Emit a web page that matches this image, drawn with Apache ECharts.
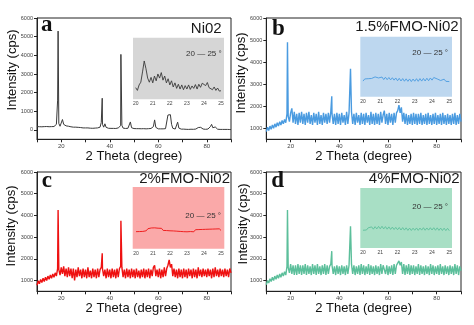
<!DOCTYPE html>
<html><head><meta charset="utf-8">
<script src="https://cdn.jsdelivr.net/npm/echarts@6/dist/echarts.min.js"></script>
<style>html,body{margin:0;padding:0;background:#fff}#c{width:474px;height:325px}</style>
</head><body><div id="c"></div>
<script>
// ---------- DATA ----------
const theta = [
10,10.5,11,11.5,12,12.5,13,13.5,14,14.5,
15,15.5,16,16.5,17,17.5,18,18.5,18.7,19,19.5,
20,20.5,21,21.5,22,22.5,23,23.5,24,24.5,
25,25.5,26,26.5,27,27.5,28,28.5,29,29.5,
30,30.5,31,31.5,32,32.5,33,33.5,34,34.5,
35,35.5,36,36.5,36.9,37,37.5,38,38.5,39,39.5,
40,40.5,41,41.5,42,42.5,43,43.5,44,44.5,44.6,
45,45.5,46,46.5,47,47.5,48,48.5,49,49.5,
50,50.5,51,51.5,52,52.5,53,53.5,54,54.5,
55,55.5,56,56.5,57,57.5,58,58.5,59,59.5,
60,60.5,61,61.5,62,62.5,63,63.5,64,64.5,
65,65.5,66,66.5,67,67.5,68,68.5,69,69.5,
70,70.5,71,71.5,72,72.5,73,73.5,74,74.5,
75,75.5,76,76.5,77,77.5,78,78.5,79,79.5,
80,80.5,81,81.5,82,82.5,83,83.5,84,84.5,
85,85.5,86,86.5,87,87.5,88,88.5,89,89.5,
90];

const ni02 = [
180,190,175,185,170,190,180,175,185,180,
175,185,180,190,185,200,300,1600,5300,350,200,
250,560,300,320,220,180,200,220,170,150,
150,140,150,130,140,120,130,120,110,120,
110,100,110,100,95,100,90,95,100,110,
110,120,150,400,1700,300,150,330,140,100,90,
90,85,90,85,90,80,90,110,180,230,4050,
250,100,90,80,80,90,150,430,120,80,
75,70,70,65,70,60,65,60,70,60,
60,65,70,60,80,100,180,540,140,70,
60,55,60,50,60,50,70,150,800,780,
820,300,90,60,50,70,420,100,50,45,
40,45,40,35,40,30,35,40,30,35,
40,50,70,130,160,140,80,50,40,35,
40,50,80,180,300,120,60,160,70,40,
35,30,35,30,25,30,25,30,20,25,
20];

const fmo15 = [
850,1050,900,1100,950,1150,1000,1200,1050,1250,
1100,1300,1150,1350,1200,1400,1250,1650,4900,1550,1300,
1700,1900,1250,1750,1200,1650,1150,1700,1250,1750,
1200,1650,1150,1700,1250,1750,1200,1600,1150,1700,
1250,1650,1150,1750,1200,1600,1150,1700,1250,1650,
1200,1700,1250,1750,2450,1650,1200,1650,1150,1700,1200,
1650,1150,1700,1250,1600,1150,1750,1200,1700,1650,3700,
1750,1200,1650,1150,1700,1250,1600,1150,1700,1200,
1650,1150,1700,1250,1600,1150,1750,1200,1650,1150,
1700,1200,1650,1150,1750,1250,1600,1800,1200,1650,
1150,1700,1250,1650,1150,1700,1250,1700,1800,2050,
1700,1950,1300,1700,1200,1650,1150,1600,1200,1650,
1150,1700,1200,1650,1150,1650,1200,1700,1150,1600,
1200,1650,1150,1700,1200,1600,1150,1650,1200,1700,
1150,1600,1200,1650,1150,1700,1200,1600,1150,1650,
1200,1600,1150,1650,1200,1700,1150,1600,1200,1650,
1300];

const fmo2 = [
780,980,850,1050,900,1100,950,1150,1000,1200,
1050,1250,1100,1300,1150,1350,1200,1550,4250,1500,1250,
1600,1300,1650,1200,1550,1150,1600,1200,1550,1100,
1550,1000,1500,1150,1600,1200,1500,1100,1550,1150,
1500,1100,1600,1150,1450,1100,1550,1150,1500,1100,
1550,1150,1500,1600,2250,1550,1200,1500,1100,1550,1150,
1500,1100,1550,1150,1500,1100,1550,1150,1550,1650,3750,
1600,1150,1500,1100,1550,1150,1500,1100,1550,1150,
1500,1100,1550,1150,1450,1100,1500,1150,1550,1100,
1500,1150,1550,1100,1500,1200,1600,1700,1200,1500,
1150,1550,1100,1500,1150,1600,1200,1550,1700,1950,
1600,1750,1200,1550,1150,1500,1100,1550,1150,1500,
1100,1550,1150,1500,1100,1550,1200,1500,1100,1550,
1150,1500,1100,1600,1200,1500,1150,1550,1200,1500,
1150,1550,1200,1500,1100,1550,1150,1600,1200,1500,
1150,1550,1200,1500,1150,1550,1200,1500,1150,1550,
1350];

const fmo4 = [
800,1000,880,1080,950,1150,1000,1200,1050,1250,
1100,1300,1150,1350,1200,1400,1250,1650,4250,1600,1350,
1750,1300,1700,1250,1700,1250,1750,1300,1700,1250,
1700,1300,1750,1250,1700,1300,1650,1250,1750,1300,
1700,1250,1750,1300,1650,1250,1700,1300,1750,1250,
1700,1300,1650,1750,2350,1700,1300,1650,1250,1700,1300,
1650,1250,1700,1300,1650,1250,1700,1300,1700,1750,3500,
1750,1300,1700,1250,1650,1300,1700,1250,1750,1300,
1700,1250,1650,1300,1750,1250,1700,1300,1650,1250,
1700,1300,1650,1250,1750,1300,1700,1750,1300,1700,
1250,1650,1300,1700,1250,1750,1300,1700,1800,1900,
1700,1850,1300,1750,1250,1700,1300,1750,1250,1700,
1300,1700,1250,1650,1300,1750,1250,1700,1300,1650,
1250,1700,1300,1650,1250,1750,1300,1700,1250,1650,
1300,1700,1250,1750,1300,1650,1250,1700,1300,1650,
1250,1700,1300,1650,1250,1750,1300,1700,1250,1650,
1450];

const insetTheta = [
20.0,20.1,20.2,20.3,20.4,20.5,20.6,20.7,20.8,20.9,
21.0,21.1,21.2,21.3,21.4,21.5,21.6,21.7,21.8,21.9,
22.0,22.1,22.2,22.3,22.4,22.5,22.6,22.7,22.8,22.9,
23.0,23.1,23.2,23.3,23.4,23.5,23.6,23.7,23.8,23.9,
24.0,24.1,24.2,24.3,24.4,24.5,24.6,24.7,24.8,24.9,
25.0];

const insetNi02 = [
170,130,210,250,400,560,450,310,250,320,
240,340,270,370,310,390,280,340,240,300,
210,270,180,240,160,220,150,210,140,200,
150,210,145,195,160,215,150,220,175,235,
260,200,245,170,185,140,180,130,165,120,
125];

const insetFmo15 = [
1300,1480,1330,1500,1360,1520,1450,1650,1760,1560,
1450,1640,1430,1620,1420,1600,1400,1580,1380,1560,
1330,1530,1310,1510,1290,1490,1280,1480,1260,1470,
1290,1500,1280,1510,1300,1520,1310,1540,1330,1560,
1380,1600,1640,1480,1420,1350,1300,1460,1280,1400,
1260];

const insetFmo2 = [
1380,1540,1390,1550,1400,1560,1450,1620,1550,1680,
1560,1690,1540,1660,1500,1650,1480,1630,1470,1620,
1450,1600,1440,1580,1420,1560,1400,1550,1380,1520,
1370,1530,1390,1520,1370,1540,1400,1550,1410,1560,
1420,1570,1430,1580,1440,1590,1450,1600,1460,1610,
1480];

const insetFmo4 = [
1480,1640,1500,1680,1560,1760,1570,1780,1590,1800,
1600,1810,1590,1780,1570,1760,1550,1740,1540,1720,
1520,1710,1500,1700,1490,1680,1470,1660,1460,1650,
1480,1670,1470,1660,1490,1690,1480,1670,1490,1690,
1500,1690,1480,1680,1470,1660,1460,1650,1450,1640,
1440];

const mainXLabels = [20, 40, 60, 80];
const mainXTicks = [10, 20, 30, 40, 50, 60, 70, 80, 90];
const yLabelsA = [0, 1000, 2000, 3000, 4000, 5000, 6000];
const yLabelsB = [1000, 2000, 3000, 4000, 5000, 6000];
const insetLabel = '20 \u2014 25 \u00b0';
const titles = ['Ni02', '1.5%FMO-Ni02', '2%FMO-Ni02', '4%FMO-Ni02'];
const letters = ['a', 'b', 'c', 'd'];
const yName = 'Intensity (cps)';
const xName = '2 Theta (degree)';

// ---------- LAYOUT / STYLE ----------
const SANS = '"Liberation Sans", Arial, sans-serif';
const SERIF = '"Liberation Serif", "Times New Roman", serif';
const panels = [
  { main: {left:37, top:18, right:243, bottom:185.7}, ymin:-500, ylabels:yLabelsA, nameGap:8,
    inset: {left:135.7, right:253, top:37.7, bottom:225.7}, box:[133,37.7,91,61.6], imax:900,
    color:'#3a3a3a', bg:'#d6d6d6', y:ni02, iy:insetNi02, lw:1,
    letter:[41,25.5], title:[221.7,29.3], itext:[221.7,53.3], yname:[12,70] },
  { main: {left:266.3, top:18, right:13, bottom:185.7}, ymin:500, ylabels:yLabelsB, nameGap:8,
    inset: {left:363, right:24.7, top:36.7, bottom:228.3}, box:[360.3,36.7,91.7,60], imax:5000,
    color:'#4a9be0', bg:'#bdd7ef', y:fmo15, iy:insetFmo15, lw:1.4,
    letter:[272,28.7], title:[458.7,26.7], itext:[448,52.3], yname:[241,73] },
  { main: {left:37, top:172, right:243, bottom:33.7}, ymin:500, ylabels:yLabelsB, nameGap:10,
    inset: {left:136, right:253, top:187, bottom:76.3}, box:[132.7,187,91.6,61.7], imax:5000,
    color:'#ee1111', bg:'#faa9a9', y:fmo2, iy:insetFmo2, lw:1.4,
    letter:[41.7,180.7], title:[230,178.7], itext:[221,215.3], yname:[11.7,226] },
  { main: {left:266.3, top:172, right:13, bottom:33.7}, ymin:500, ylabels:yLabelsB, nameGap:10,
    inset: {left:363, right:24.7, top:188, bottom:77}, box:[360.3,188,91.7,60], imax:5000,
    color:'#5cbf9b', bg:'#a8dfc5', y:fmo4, iy:insetFmo4, lw:1.4,
    letter:[271.3,181.3], title:[459.7,178.7], itext:[448,207], yname:[243,224] }
];

const grid = [], xAxis = [], yAxis = [], series = [], graphic = [];
panels.forEach((p, i) => {
  const gm = grid.length;
  grid.push(Object.assign({show:true, borderColor:'#222', borderWidth:1, backgroundColor:'transparent', containLabel:false}, p.main));
  xAxis.push({type:'value', gridIndex:gm, min:10, max:90, name:xName, nameLocation:'middle', nameGap:p.nameGap,
    nameTextStyle:{fontFamily:SANS, fontSize:13, color:'#111'},
    axisLine:{onZero:false, lineStyle:{color:'#222', width:1}},
    axisTick:{show:true, inside:false, length:3, customValues:mainXTicks, lineStyle:{color:'#222'}},
    axisLabel:{customValues:mainXLabels, fontSize:6, color:'#444', margin:4, fontFamily:SANS, formatter: v => String(v)},
    splitLine:{show:false}});
  yAxis.push({type:'value', gridIndex:gm, min:p.ymin, max:6000,
    axisLine:{show:true, onZero:false, lineStyle:{color:'#222', width:1}},
    axisTick:{show:true, inside:false, length:3, customValues:p.ylabels, lineStyle:{color:'#222'}},
    axisLabel:{customValues:p.ylabels, fontSize:5.5, color:'#444', margin:4, fontFamily:SANS, formatter: v => String(v)},
    splitLine:{show:false}});
  series.push({type:'line', xAxisIndex:gm, yAxisIndex:gm, z:2, showSymbol:false, silent:true,
    lineStyle:{color:p.color, width:p.lw}, data: theta.map((x, k) => [x, p.y[k]])});

  const gi = grid.length;
  grid.push(Object.assign({show:false, containLabel:false}, p.inset));
  xAxis.push({type:'value', gridIndex:gi, min:20, max:25, interval:1,
    axisLine:{show:false}, axisTick:{show:false},
    axisLabel:{fontSize:5, color:'#444', margin:2, fontFamily:SANS}, splitLine:{show:false}});
  yAxis.push({type:'value', gridIndex:gi, min:0, max:p.imax, show:false, splitLine:{show:false}});
  series.push({type:'line', xAxisIndex:gi, yAxisIndex:gi, z:4, showSymbol:false, silent:true,
    lineStyle:{color:p.color, width:0.9}, data: insetTheta.map((x, k) => [x, p.iy[k]])});

  graphic.push({type:'rect', z:3, shape:{x:p.box[0], y:p.box[1], width:p.box[2], height:p.box[3]}, style:{fill:p.bg}});
  graphic.push({type:'text', z:5, x:p.letter[0], y:p.letter[1],
    style:{text:letters[i], fill:'#111', fontSize:23, fontWeight:'bold', fontFamily:SERIF, align:'left', verticalAlign:'middle'}});
  graphic.push({type:'text', z:5, x:p.title[0], y:p.title[1],
    style:{text:titles[i], fill:'#1a1a1a', fontSize:15, fontFamily:SANS, align:'right', verticalAlign:'middle'}});
  graphic.push({type:'text', z:5, x:p.itext[0], y:p.itext[1],
    style:{text:insetLabel, fill:'#333', fontSize:8, fontFamily:SANS, align:'right', verticalAlign:'middle'}});
  graphic.push({type:'text', z:5, x:p.yname[0], y:p.yname[1], rotation:Math.PI/2,
    style:{text:yName, fill:'#111', fontSize:13, fontFamily:SANS, align:'center', verticalAlign:'middle'}});
});

const chart = echarts.init(document.getElementById('c'), null, {renderer:'canvas'});
chart.setOption({animation:false, backgroundColor:'#fff', grid, xAxis, yAxis, series, graphic});
</script></body></html>
